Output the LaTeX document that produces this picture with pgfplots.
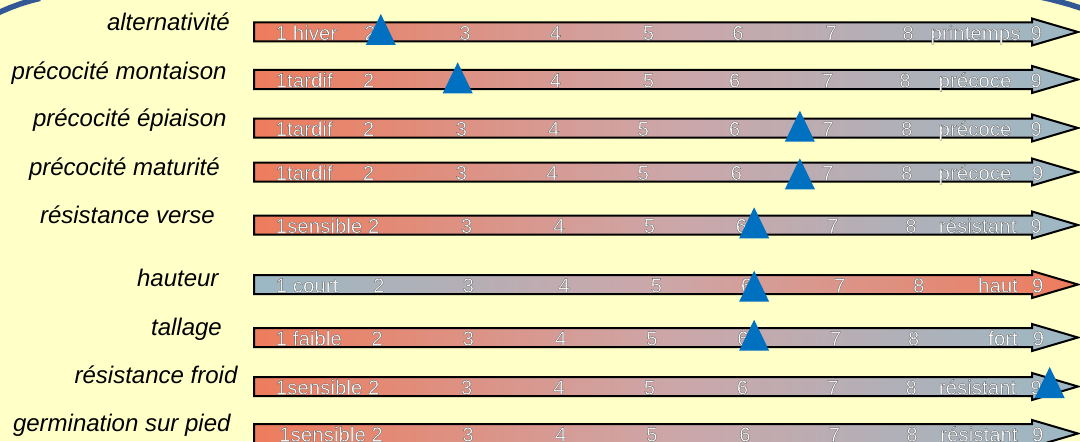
\documentclass[border=0pt]{standalone}
\usepackage{fontspec}
\setmainfont{Liberation Sans}
\usepackage{pgfplots}
\usepackage{pgfplotstable}
\pgfplotsset{compat=1.18}
\definecolor{bg}{RGB}{255,255,200}
\definecolor{cleft}{RGB}{238,124,93}
\definecolor{cmid}{RGB}{205,166,168}
\definecolor{cright}{RGB}{155,184,196}
\definecolor{triblue}{RGB}{0,112,192}
\definecolor{frameblue}{RGB}{50,88,150}
\newcommand\bfnt{\fontsize{20.5bp}{24bp}\selectfont}
\newcommand\lfnt{\fontsize{24bp}{28bp}\selectfont\itshape}
% white text with a thin dark outline (fill + stroke rendering mode)
\newcommand\otext[1]{\textcolor{white}{\special{pdf:literal 2 Tr 0.38 G 0.35 w}#1\special{pdf:literal 0 Tr 0.3985 w}}}
\pgfdeclareplotmark{tri}{%
  \pgfpathmoveto{\pgfpoint{-15bp}{0bp}}%
  \pgfpathlineto{\pgfpoint{15bp}{0bp}}%
  \pgfpathlineto{\pgfpoint{0bp}{31bp}}%
  \pgfpathclose\pgfusepathqfill}
% arrow scale: #1 = centre (pixel row), #2 left colour, #3 right colour
\newcommand\arw[3]{\draw[line width=2bp, draw=black, left color=#2, right color=#3, middle color=cmid]
  ([yshift=9.5bp]axis cs:254,#1) -- ([yshift=9.5bp]axis cs:1032,#1) -- ([yshift=13.5bp]axis cs:1032,#1)
  -- (axis cs:1078,#1) -- ([yshift=-13.5bp]axis cs:1032,#1) -- ([yshift=-9.5bp]axis cs:1032,#1)
  -- ([yshift=-9.5bp]axis cs:254,#1) -- cycle;}
\newcommand\bt[3]{\node[anchor=base,inner sep=0pt,font=\bfnt] at ([yshift=-8bp]axis cs:#1,#2) {\otext{#3}};}
\newcommand\btw[3]{\node[anchor=base west,inner sep=0pt,font=\bfnt] at ([yshift=-8bp]axis cs:#1,#2) {\otext{#3}};}
\newcommand\lab[3]{\node[anchor=base east,inner sep=0pt,font=\lfnt] at (axis cs:#1,#2) {#3};}

% triangle markers: score on the 1-9 scale, pixel row of the triangle base
\pgfplotstableread{
score base
2.08 45
2.92 93.3
6.66 141.7
6.66 189.3
6.16 238.3
6.16 301.7
6.16 350.7
9.39 398
7.17 447
}\tri

\begin{document}
\begin{tikzpicture}
\begin{axis}[name=ax, width=1080bp, height=441bp, scale only axis,
  xmin=0, xmax=1080, ymin=0, ymax=441, y dir=reverse,
  axis lines=none, ticks=none, clip=true]
\fill[bg] (rel axis cs:0,0) rectangle (rel axis cs:1,1);
% frame corners
\draw[frameblue, line width=5.5bp] (axis cs:-5,14.4) -- (axis cs:0,12) -- (axis cs:10,7.7) -- (axis cs:20,4.0) -- (axis cs:30,0.9) -- (axis cs:40,-1.6);
\draw[frameblue, line width=5.5bp] (axis cs:1040,-3) -- (axis cs:1050,-0.8) -- (axis cs:1060,1.8) -- (axis cs:1070,4.6) -- (axis cs:1080,7.8) -- (axis cs:1086,10);
% scales
\arw{32}{cleft}{cright}
\arw{79.5}{cleft}{cright}
\arw{128}{cleft}{cright}
\arw{172}{cleft}{cright}
\arw{225}{cleft}{cright}
\arw{284.5}{cright}{cleft}
\arw{337.5}{cleft}{cright}
\arw{386.5}{cleft}{cright}
\arw{433.5}{cleft}{cright}
% row 1
\btw{275.5}{32}{1 hiver}\bt{370}{32}{2}\bt{465}{32}{3}\bt{555.5}{32}{4}\bt{648.5}{32}{5}\bt{738}{32}{6}\bt{831}{32}{7}\bt{908}{32}{8}\bt{975.5}{32}{printemps}\bt{1036}{32}{9}
% row 2
\btw{275.5}{79.5}{1tardif}\bt{368.5}{79.5}{2}\bt{555.5}{79.5}{4}\bt{648.5}{79.5}{5}\bt{734.6}{79.5}{6}\bt{827.5}{79.5}{7}\bt{905}{79.5}{8}\bt{975}{79.5}{précoce}\bt{1036}{79.5}{9}
% row 3
\btw{275.5}{128}{1tardif}\bt{368.5}{128}{2}\bt{461.4}{128}{3}\bt{553.8}{128}{4}\bt{643.3}{128}{5}\bt{734.6}{128}{6}\bt{827.5}{128}{7}\bt{906.7}{128}{8}\bt{975}{128}{précoce}\bt{1036}{128}{9}
% row 4
\btw{275.5}{172}{1tardif}\bt{368.5}{172}{2}\bt{461.4}{172}{3}\bt{552}{172}{4}\bt{643.3}{172}{5}\bt{736.3}{172}{6}\bt{827.5}{172}{7}\bt{906.7}{172}{8}\bt{975}{172}{précoce}\bt{1037.6}{172}{9}
% row 5
\btw{275.5}{225}{1sensible 2}\bt{466.6}{225}{3}\bt{559}{225}{4}\bt{649.5}{225}{5}\bt{741.4}{225}{6}\bt{832.7}{225}{7}\bt{911}{225}{8}\bt{977.5}{225}{résistant}\bt{1036}{225}{9}
% row 6
\btw{275.5}{284.5}{1 court}\bt{378.8}{284.5}{2}\bt{468.3}{284.5}{3}\bt{564}{284.5}{4}\bt{656.4}{284.5}{5}\bt{746.6}{284.5}{6}\bt{839.6}{284.5}{7}\bt{918.8}{284.5}{8}\bt{998}{284.5}{haut}\bt{1037.6}{284.5}{9}
% row 7
\btw{275.5}{337.5}{1 faible}\bt{377}{337.5}{2}\bt{468.3}{337.5}{3}\bt{560.7}{337.5}{4}\bt{652}{337.5}{5}\bt{743}{337.5}{6}\bt{835.5}{337.5}{7}\bt{913.6}{337.5}{8}\bt{1003}{337.5}{fort}\bt{1038.3}{337.5}{9}
% row 8
\btw{275.5}{386.5}{1sensible 2}\bt{466.6}{386.5}{3}\bt{559}{386.5}{4}\bt{649.5}{386.5}{5}\bt{742.5}{386.5}{6}\bt{832.7}{386.5}{7}\bt{911.2}{386.5}{8}\bt{977.5}{386.5}{résistant}\bt{1036}{386.5}{9}
% row 9
\btw{279}{433.5}{1sensible 2}\bt{468}{433.5}{3}\bt{560.7}{433.5}{4}\bt{652}{433.5}{5}\bt{745}{433.5}{6}\bt{834.4}{433.5}{7}\bt{912}{433.5}{8}\bt{979}{433.5}{résistant}\bt{1037.6}{433.5}{9}
% row labels
\lab{230}{30.5}{alternativité}
\lab{226.7}{79.3}{précocité montaison}
\lab{226.7}{126.7}{précocité épiaison}
\lab{220}{175}{précocité maturité}
\lab{215}{223.3}{résistance verse}
\lab{218.7}{286.7}{hauteur}
\lab{222}{335}{tallage}
\lab{237.6}{383.3}{résistance froid}
\lab{230.7}{431.7}{germination sur pied}
% values
\addplot[only marks, mark=tri, color=triblue, x filter/.expression={282+(x-1)*91.5}]
  table[x=score, y=base] {\tri};
\end{axis}
\pgfresetboundingbox
\path (ax.south west) rectangle (ax.north east);
\end{tikzpicture}
\end{document}
